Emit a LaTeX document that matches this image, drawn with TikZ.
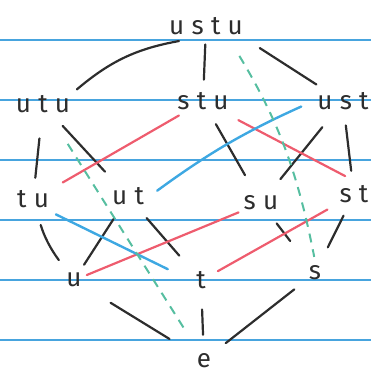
\documentclass[tikz,border=0pt]{standalone}
\usepackage{fontspec}
\newfontfamily\handfont[LetterSpace=28]{Fira Sans}
\usetikzlibrary{positioning}

\definecolor{ruled}{RGB}{72,164,222}
\definecolor{ink}{RGB}{45,45,45}
\definecolor{redpen}{RGB}{238,92,110}
\definecolor{bluepen}{RGB}{62,168,226}
\definecolor{tealpen}{RGB}{86,190,160}

\begin{document}
\begin{tikzpicture}[x=1pt,y=1pt,
    elt/.style={font=\handfont\fontsize{26}{26}\selectfont, text=ink, anchor=base, inner sep=5pt},
    gap/.style 2 args={shorten <=#1pt, shorten >=#2pt},
    cov/.style={draw=ink, line width=2.2pt, line cap=round},
    redcov/.style={draw=redpen, line width=2.2pt, line cap=round},
    bluecov/.style={draw=bluepen, line width=2.4pt, line cap=round},
    tealcov/.style={draw=tealpen, line width=2pt, dash pattern=on 9pt off 7pt}]
    \useasboundingbox (0,0) rectangle (371,375);
    % ruled paper
    \foreach \y in {35,95,155,215,275,335}
        \draw[ruled, line width=1.2pt] (0,\y) -- (371,\y);

    % elements of the order
    \node[elt] (ustu) at (206,340) {ustu};
    \node[elt] (utu) at (43,262) {utu};
    \node[elt] (stu) at (203,265) {stu};
    \node[elt] (ust) at (343,265) {ust};
    \node[elt] (tu) at (33,167) {tu};
    \node[elt] (ut) at (128,170) {ut};
    \node[elt] (su) at (261,165) {su};
    \node[elt] (st) at (354,172) {st};
    \node[elt] (u) at (74,88) {u};
    \node[elt] (t) at (201,86) {t};
    \node[elt] (s) at (315,95) {s};
    \node[elt] (e) at (204,8) {e};

    % covering relations
    \draw[cov, gap={2}{3}] (utu.north east) to[bend left=15] (ustu.-150);
    \draw[cov, gap={4}{8}] (ustu) -- (stu);
    \draw[cov, gap={14}{6}] (ustu.south east) -- (ust);
    \draw[cov, gap={20}{8}] (utu) -- (tu);
    \draw[cov, gap={10}{15}] (utu) -- (ut);
    \draw[cov, gap={10}{18}] (stu) -- (su);
    \draw[cov, gap={15}{15}] (ust) -- (su);
    \draw[cov, gap={10}{10}] (ust) -- (st);
    \draw[cov, gap={12}{10}] (tu) to[bend right=10] (u);
    \draw[cov, gap={10}{4}] (ut) -- (u);
    \draw[cov, gap={10}{18}] (ut) -- (t);
    \draw[cov, gap={10}{25}] (su) -- (s);
    \draw[cov, gap={8}{15}] (st) -- (s);
    \draw[cov, gap={28}{26}] (u) -- (e);
    \draw[cov, gap={15}{13}] (t) -- (e);
    \draw[cov, gap={12}{12}] (s) -- (e);

    % coloured relations
    \draw[redcov, gap={10}{0}] (tu) -- (stu);
    \draw[redcov, gap={10}{10}] (stu) -- (st.north);
    \draw[redcov] (u) -- (su);
    \draw[redcov, gap={8}{8}] (t) -- (st);
    \draw[bluecov, gap={10}{12}] (ut.east) to[bend left=6] (ust.west);
    \draw[bluecov, gap={2}{26}] (tu.south east) -- (t.west);
    \draw[tealcov, gap={18}{4}] (ustu.-30) to[bend left=10] (s.north);
    \draw[tealcov, gap={30}{22}] (utu) -- (e);
\end{tikzpicture}
\end{document}
